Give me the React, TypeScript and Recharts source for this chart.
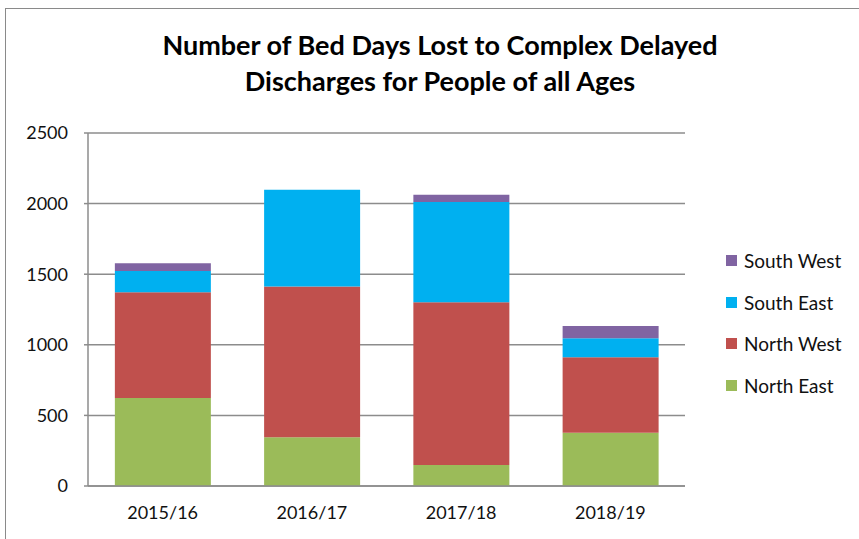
import React from "react";
import { BarChart, Bar, XAxis, YAxis, CartesianGrid, Legend } from "recharts";

const years = ["2015/16", "2016/17", "2017/18", "2018/19"];
const northEast = [624, 345, 149, 378];
const northWest = [749, 1068, 1153, 534];
const southEast = [149, 685, 709, 135];
const southWest = [56, 0, 51, 87];
const yTicks = [0, 500, 1000, 1500, 2000, 2500];

const SERIES = [
  { key: "northEast", name: "North East", color: "#9BBB59" },
  { key: "northWest", name: "North West", color: "#C0504D" },
  { key: "southEast", name: "South East", color: "#00B0F0" },
  { key: "southWest", name: "South West", color: "#8064A2" },
];

const data = years.map((year, i) => ({
  year,
  northEast: northEast[i],
  northWest: northWest[i],
  southEast: southEast[i],
  southWest: southWest[i],
}));

const FONT = "Lato, 'Open Sans', sans-serif";
const GRID = "#8C8C8C";

function LegendBox() {
  // Excel lists stacked series top-down, so reverse
  return (
    <div style={{ fontFamily: FONT, fontSize: 19, color: "#111" }}>
      {[...SERIES].reverse().map((s) => (
        <div key={s.key} style={{ height: 41.6, display: "flex", alignItems: "center" }}>
          <span style={{ width: 11, height: 11, background: s.color, marginRight: 7, display: "inline-block" }} />
          {s.name}
        </div>
      ))}
    </div>
  );
}

export default function App() {
  return (
    <div style={{ position: "absolute", left: 0, top: 0, width: 859, height: 539, overflow: "hidden", background: "#fff" }}>
      <div style={{ position: "absolute", left: 5, top: 8, width: 1000, height: 1000, border: "1.5px solid #8a8a8a" }} />
      <div
        style={{
          position: "absolute",
          left: 5,
          width: 870,
          top: 27,
          textAlign: "center",
          fontFamily: FONT,
          fontWeight: 700,
          fontSize: 27,
          lineHeight: "36px",
          color: "#000",
        }}
      >
        Number of Bed Days Lost to Complex Delayed
        <br />
        Discharges for People of all Ages
      </div>
      <div style={{ position: "absolute", left: 0, top: 0 }}>
        <BarChart
          width={859}
          height={539}
          data={data}
          margin={{ top: 133, right: 174, bottom: 23, left: 0 }}
          barCategoryGap="18%"
        >
          <CartesianGrid vertical={false} stroke={GRID} strokeWidth={1.5} />
          <XAxis
            dataKey="year"
            axisLine={{ stroke: GRID, strokeWidth: 1.5 }}
            tickLine={false}
            tickSize={0}
            tickMargin={20}
            height={30}
            tick={{ fontFamily: FONT, fontSize: 18, fill: "#111" }}
          />
          <YAxis
            width={88}
            domain={[0, 2500]}
            ticks={yTicks}
            interval={0}
            axisLine={{ stroke: GRID, strokeWidth: 1.5 }}
            tickLine={{ stroke: GRID, strokeWidth: 1.5 }}
            tickSize={4}
            tickMargin={16}
            tick={{ fontFamily: FONT, fontSize: 18, fill: "#111" }}
          />
          <Legend
            content={<LegendBox />}
            layout="horizontal"
            verticalAlign="middle"
            wrapperStyle={{ left: 726, top: 240, width: 130 }}
          />
          {SERIES.map((s) => (
            <Bar
              key={s.key}
              dataKey={s.key}
              name={s.name}
              stackId="a"
              fill={s.color}
              isAnimationActive={false}
            />
          ))}
        </BarChart>
      </div>
    </div>
  );
}
